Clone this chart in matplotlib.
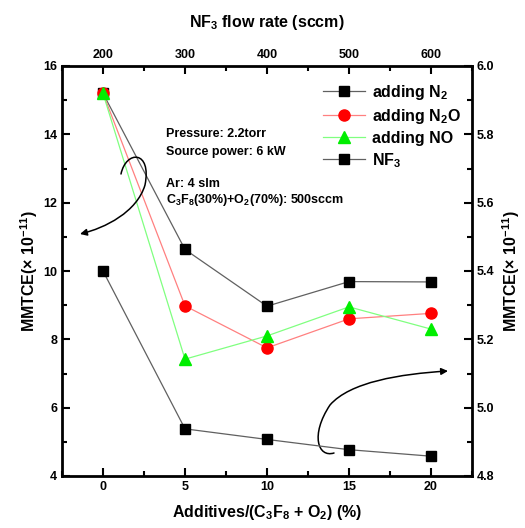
import matplotlib.pyplot as plt
from matplotlib.path import Path
from matplotlib.patches import FancyArrowPatch

plt.rcParams['font.family'] = 'Liberation Sans'
plt.rcParams['font.weight'] = 'bold'
plt.rcParams['mathtext.fontset'] = 'custom'
plt.rcParams['mathtext.rm'] = 'Liberation Sans:bold'
plt.rcParams['mathtext.it'] = 'Liberation Sans:bold'
plt.rcParams['mathtext.bf'] = 'Liberation Sans:bold'
plt.rcParams['mathtext.default'] = 'rm'

# additive ratio (%) and MMTCE (x 1e-11)
additives = [0, 5, 10, 15, 20]
mmtce_n2 = [15.2, 10.63, 8.97, 9.69, 9.68]
mmtce_n2o = [15.2, 8.98, 7.75, 8.6, 8.76]
mmtce_no = [15.2, 7.42, 8.1, 8.95, 8.3]

# NF3 flow rate (sccm) and MMTCE on right axis
nf3_flow = [200, 300, 400, 500, 600]
mmtce_nf3 = [5.40, 4.938, 4.907, 4.877, 4.858]

fig = plt.figure(figsize=(5.25, 5.28), dpi=100)
pos = [62 / 525, 52 / 528, 410 / 525, 410 / 528]
ax = fig.add_axes(pos)

ax.plot(additives, mmtce_n2, color='#606060', lw=0.9, marker='s', ms=7,
        mfc='black', mec='black', label='adding N$_2$')
ax.plot(additives, mmtce_n2o, color='#ff8080', lw=0.9, marker='o', ms=8,
        mfc='red', mec='red', label='adding N$_2$O')
ax.plot(additives, mmtce_no, color='#80ff80', lw=0.9, marker='^', ms=9,
        mfc='#00ee00', mec='#00ee00', label='adding NO')

ax.set_xlim(-2.5, 22.5)
ax.set_ylim(4, 16)
ax.set_xticks([0, 5, 10, 15, 20])
ax.set_xticks([-2.5, 2.5, 7.5, 12.5, 17.5, 22.5], minor=True)
ax.set_yticks(range(4, 17, 2))
ax.set_yticks(range(5, 16, 2), minor=True)
ax.tick_params(which='both', direction='in', width=1.5, labelsize=9)
ax.tick_params(which='major', length=6)
ax.tick_params(which='minor', length=3.5)
for s in ax.spines.values():
    s.set_linewidth(2)
ax.set_xlabel('Additives/(C$_3$F$_8$ + O$_2$) (%)', fontsize=11.5, fontweight='bold', labelpad=7)
ax.set_ylabel('MMTCE(× 10$^{-11}$)', fontsize=11.5, fontweight='bold', labelpad=2)

ax2 = fig.add_axes(pos, frameon=False)
ax2.plot(nf3_flow, mmtce_nf3, color='#606060', lw=0.9, marker='s', ms=7,
         mfc='black', mec='black', label='NF$_3$')
ax2.set_xlim(150, 650)
ax2.set_ylim(4.8, 6.0)
ax2.xaxis.tick_top()
ax2.xaxis.set_label_position('top')
ax2.yaxis.tick_right()
ax2.yaxis.set_label_position('right')
ax2.set_xticks([200, 300, 400, 500, 600])
ax2.set_xticks([150, 250, 350, 450, 550, 650], minor=True)
ax2.set_yticks([4.8, 5.0, 5.2, 5.4, 5.6, 5.8, 6.0])
ax2.set_yticks([4.9, 5.1, 5.3, 5.5, 5.7, 5.9], minor=True)
ax2.yaxis.set_major_formatter(plt.FormatStrFormatter('%.1f'))
ax2.tick_params(which='both', direction='in', width=1.5, labelsize=9)
ax2.tick_params(which='major', length=6)
ax2.tick_params(which='minor', length=3.5)
ax2.set_xlabel('NF$_3$ flow rate (sccm)', fontsize=11.5, fontweight='bold', labelpad=16)
ax2.set_ylabel('MMTCE(× 10$^{-11}$)', fontsize=11.5, fontweight='bold', labelpad=4)

h1, l1 = ax.get_legend_handles_labels()
h2, l2 = ax2.get_legend_handles_labels()
ax2.legend(h1 + h2, l1 + l2, loc='upper left', bbox_to_anchor=(0.621, 0.975),
           frameon=False, fontsize=11.5, handlelength=2.6, handletextpad=0.45,
           labelspacing=0.32, borderaxespad=0)

ax2.text(0.253, 0.835, 'Pressure: 2.2torr', transform=ax2.transAxes, fontsize=9, fontweight='bold', va='center')
ax2.text(0.253, 0.79, 'Source power: 6 kW', transform=ax2.transAxes, fontsize=9, fontweight='bold', va='center')
ax2.text(0.253, 0.713, 'Ar: 4 slm', transform=ax2.transAxes, fontsize=9, fontweight='bold', va='center')
ax2.text(0.253, 0.672, 'C$_3$F$_8$(30%)+O$_2$(70%): 500sccm', transform=ax2.transAxes,
         fontsize=9, fontweight='bold', va='center')


def px(x, y):
    # pixel position in the picture -> axes fraction
    return ((x - 62) / 410, (476 - y) / 410)


codes = [Path.MOVETO, Path.CURVE4, Path.CURVE4, Path.CURVE4,
         Path.CURVE4, Path.CURVE4, Path.CURVE4]
verts1 = [px(121, 174), px(126, 150), px(152, 150), px(145, 185),
          px(137, 212), px(105, 228), px(80, 234)]
arr1 = FancyArrowPatch(path=Path(verts1, codes), arrowstyle='-|>,head_length=4,head_width=2',
                       color='black', lw=1.1, transform=ax2.transAxes)
ax2.add_patch(arr1)

verts2 = [px(334, 453), px(318, 458), px(310, 435), px(330, 405),
          px(350, 382), px(400, 374), px(448, 371)]
arr2 = FancyArrowPatch(path=Path(verts2, codes), arrowstyle='-|>,head_length=4,head_width=2',
                       color='black', lw=1.1, transform=ax2.transAxes)
ax2.add_patch(arr2)

fig.savefig('out.png', dpi=100)
